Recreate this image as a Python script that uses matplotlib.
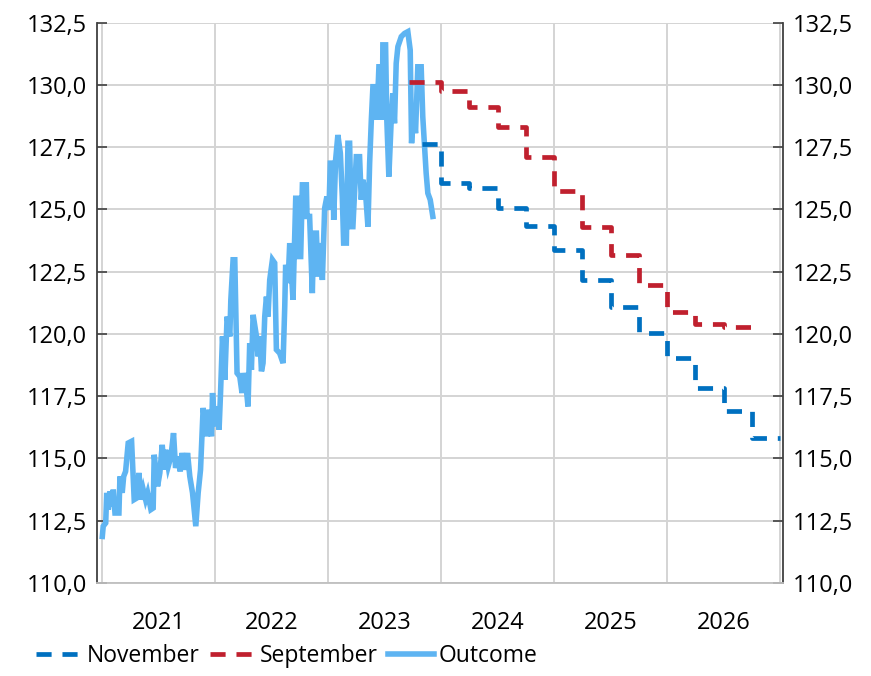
import matplotlib
matplotlib.use("Agg")
import matplotlib.pyplot as plt
from matplotlib.ticker import FixedLocator, FuncFormatter

plt.rcParams['font.family'] = ['Open Sans', 'DejaVu Sans']

# outcome (fractional year, index value)
outcome_t = [2021.003, 2021.011, 2021.033, 2021.042, 2021.056, 2021.071, 2021.091, 2021.100,
             2021.115, 2021.150, 2021.159, 2021.179, 2021.192, 2021.209, 2021.232, 2021.262,
             2021.285, 2021.307, 2021.327, 2021.345, 2021.365, 2021.386, 2021.404, 2021.433,
             2021.453, 2021.462, 2021.483, 2021.492, 2021.512, 2021.533, 2021.550, 2021.563,
             2021.586, 2021.610, 2021.633, 2021.651, 2021.674, 2021.692, 2021.709, 2021.733,
             2021.757, 2021.777, 2021.801, 2021.830, 2021.851, 2021.872, 2021.895, 2021.925,
             2021.948, 2021.969, 2021.978, 2021.998, 2022.019, 2022.036, 2022.049, 2022.066,
             2022.087, 2022.107, 2022.131, 2022.140, 2022.160, 2022.175, 2022.195, 2022.219,
             2022.239, 2022.254, 2022.272, 2022.292, 2022.307, 2022.322, 2022.337, 2022.367,
             2022.381, 2022.396, 2022.411, 2022.425, 2022.440, 2022.455, 2022.469, 2022.484,
             2022.508, 2022.528, 2022.543, 2022.572, 2022.602, 2022.617, 2022.625, 2022.646,
             2022.661, 2022.690, 2022.714, 2022.731, 2022.743, 2022.758, 2022.773, 2022.808,
             2022.814, 2022.837, 2022.861, 2022.873, 2022.897, 2022.911, 2022.926, 2022.950,
             2022.970, 2022.990, 2023.008, 2023.020, 2023.043, 2023.050, 2023.067, 2023.087,
             2023.109, 2023.126, 2023.138, 2023.162, 2023.176, 2023.191, 2023.206, 2023.220,
             2023.250, 2023.279, 2023.294, 2023.308, 2023.332, 2023.353, 2023.368, 2023.383,
             2023.397, 2023.421, 2023.432, 2023.450, 2023.471, 2023.480, 2023.485, 2023.509,
             2023.520, 2023.538, 2023.559, 2023.573, 2023.588, 2023.603, 2023.618, 2023.648,
             2023.677, 2023.706, 2023.727, 2023.739, 2023.756, 2023.774, 2023.794, 2023.824,
             2023.838, 2023.868, 2023.883, 2023.904, 2023.927]
outcome_v = [111.87, 112.28, 112.41, 113.62, 112.95, 113.68, 113.08, 113.75,
             112.81, 112.81, 114.28, 113.62, 114.28, 114.48, 115.62, 115.69,
             113.35, 113.41, 114.42, 113.35, 113.75, 113.35, 113.62, 112.95,
             113.01, 115.15, 114.28, 113.88, 114.42, 115.55, 114.55, 115.35,
             114.68, 115.08, 116.02, 114.62, 115.08, 114.48, 115.22, 114.55,
             115.22, 114.28, 113.62, 112.28, 113.62, 114.55, 117.03, 115.89,
             116.96, 115.89, 117.63, 116.29, 117.09, 116.16, 117.63, 119.90,
             118.16, 120.70, 119.90, 121.37, 122.98, 122.98, 118.43, 118.29,
             117.63, 118.43, 118.03, 117.09, 119.63, 118.56, 120.77, 119.90,
             119.10, 119.90, 118.50, 118.83, 120.70, 121.50, 120.70, 122.17,
             122.98, 122.85, 119.37, 119.23, 118.83, 121.10, 122.78, 122.04,
             123.65, 121.37, 125.45, 125.45, 123.11, 123.11, 125.99, 125.99,
             124.72, 124.72, 121.64, 124.05, 124.05, 122.31, 123.65, 122.17,
             125.05, 125.52, 124.98, 126.86, 126.86, 124.58, 126.99, 127.99,
             127.26, 125.52, 123.65, 123.65, 127.66, 127.66, 124.31, 124.31,
             127.12, 127.12, 125.39, 126.19, 125.65, 124.31, 126.86, 128.60,
             129.93, 129.93, 128.60, 130.73, 130.73, 128.60, 131.61, 131.61,
             128.60, 126.32, 128.60, 129.67, 128.46, 130.87, 131.54, 131.94,
             132.07, 132.14, 131.40, 127.66, 129.00, 128.06, 130.73, 130.73,
             128.73, 126.46, 125.65, 125.39, 124.72]

# forecasts, quarterly steps (last value repeated to close the step)
nov_t = [2023.83, 2024.0, 2024.25, 2024.5, 2024.75, 2025.0, 2025.25, 2025.5,
         2025.75, 2026.0, 2026.25, 2026.5, 2026.75, 2027.0]
nov_v = [127.63, 126.08, 125.85, 125.05, 124.35, 123.38, 122.15, 121.09,
         120.04, 119.03, 117.85, 116.89, 115.82, 115.82]
sep_t = [2023.72, 2024.0, 2024.25, 2024.5, 2024.75, 2025.0, 2025.25, 2025.5,
         2025.75, 2026.0, 2026.25, 2026.5, 2026.75]
sep_v = [130.13, 129.77, 129.12, 128.33, 127.12, 125.75, 124.29, 123.18,
         121.95, 120.90, 120.41, 120.30, 120.30]

years = [2021, 2022, 2023, 2024, 2025, 2026]
yticks = [110, 112.5, 115, 117.5, 120, 122.5, 125, 127.5, 130, 132.5]

fig = plt.figure(figsize=(8.71, 6.76), dpi=100)
ax = fig.add_axes([97/871, 1-583/676, 686/871, (583-22.7)/676])

l_out, = ax.plot(outcome_t, outcome_v, color='#5EB4F2', lw=4.0, solid_joinstyle='miter', zorder=3)
l_sep, = ax.plot(sep_t, sep_v, color='#C0202E', lw=3.4, drawstyle='steps-post',
                 dashes=(3.2, 2.3), zorder=4)
l_nov, = ax.plot(nov_t, nov_v, color='#0070C0', lw=3.4, drawstyle='steps-post',
                 dashes=(3.2, 2.3), zorder=4)

ax.set_xlim(2020.956, 2027.025)
ax.set_ylim(110, 132.5)

ax.xaxis.set_major_locator(FixedLocator(years + [2027]))
ax.xaxis.set_minor_locator(FixedLocator([y + 0.5 for y in years]))
ax.xaxis.set_major_formatter(FuncFormatter(lambda v, p: ''))
ax.xaxis.set_minor_formatter(FuncFormatter(lambda v, p: str(int(v))))
ax.tick_params(axis='x', which='both', length=0, labelsize=17, pad=20, colors='black')

ax.set_yticks(yticks)
fmt = FuncFormatter(lambda v, p: ('%.1f' % v).replace('.', ','))
ax.yaxis.set_major_formatter(fmt)
ax.tick_params(axis='y', which='major', direction='in', length=7, width=1.2,
               labelsize=17, left=True, right=True, labelleft=True, labelright=True,
               color='#404040', labelcolor='black', pad=7)

ax.grid(True, which='major', color='#D4D4D4', lw=1.4)
ax.set_axisbelow(True)
for s in ['left', 'right']:
    ax.spines[s].set_color('#404040')
    ax.spines[s].set_linewidth(1.3)
ax.spines['top'].set_visible(False)
ax.spines['bottom'].set_color('#BFBFBF')
ax.spines['bottom'].set_linewidth(1.3)

leg = fig.legend([l_nov, l_sep, l_out], ['November', 'September', 'Outcome'],
                 loc='lower left', bbox_to_anchor=(20/871, -0.012), ncol=3, frameon=False,
                 fontsize=16.5, handlelength=2.0, handletextpad=0.2, columnspacing=0.45,
                 borderpad=0.2)

fig.savefig('out.png', dpi=100)
